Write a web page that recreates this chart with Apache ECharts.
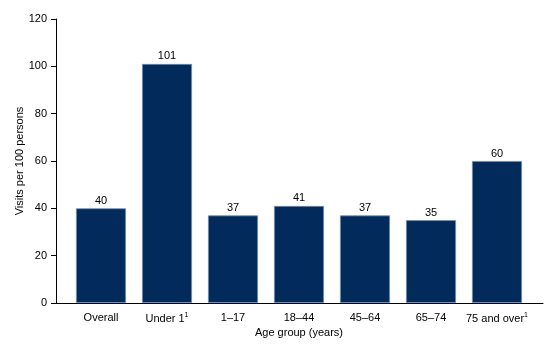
<!DOCTYPE html>
<html>
<head>
<meta charset="utf-8">
<script src="https://cdn.jsdelivr.net/npm/echarts@6/dist/echarts.min.js"></script>
<style>
	html, body { margin: 0; padding: 0; background: #fff; }
	#chart { width: 560px; height: 351px; }
</style>
</head>
<body>
<div id="chart"></div>
<script type="text/javascript">
    // age groups and visit rates
    var categories = ['Overall', 'Under 1{sup|1}', '1\u201317', '18\u201344', '45\u201364', '65\u201374', '75 and over{sup|1}'];
    var visits = [40, 101, 37, 41, 37, 35, 60];
    var yTicks = [0, 20, 40, 60, 80, 100, 120];

    var font = 'Liberation Sans, Arial, sans-serif';
    var myChart = echarts.init(document.getElementById('chart'), null, {renderer: 'canvas'});
    var option = {
        animation: false,
        textStyle: {fontFamily: font},
        grid: [
            // bars
            {left: 68, right: 30, top: 19, bottom: 48},
            // axes frame
            {left: 56, right: 17, top: 19, bottom: 48}
        ],
        xAxis: [
            {
                gridIndex: 0,
                type: 'category',
                data: categories,
                axisLine: {show: false},
                axisTick: {show: false},
                axisLabel: {
                    interval: 0,
                    color: '#000', fontSize: 11, fontFamily: font, margin: 9,
                    rich: {sup: {fontSize: 7, verticalAlign: 'top', padding: [0, 0, 6, 0], color: '#000'}}
                },
                name: 'Age group (years)',
                nameLocation: 'middle',
                nameGap: 24,
                nameMoveOverlap: false,
                nameTextStyle: {color: '#000', fontSize: 11, fontFamily: font}
            },
            {
                gridIndex: 1,
                type: 'value',
                min: 0, max: 1,
                axisLine: {show: true, lineStyle: {color: '#000', width: 1}},
                axisTick: {show: false},
                axisLabel: {show: false},
                splitLine: {show: false}
            }
        ],
        yAxis: [
            {
                gridIndex: 0,
                type: 'value',
                min: yTicks[0], max: yTicks[yTicks.length - 1], interval: 20,
                show: false
            },
            {
                gridIndex: 1,
                type: 'value',
                min: yTicks[0], max: yTicks[yTicks.length - 1], interval: 20,
                axisLine: {show: true, lineStyle: {color: '#000', width: 1}},
                axisTick: {show: true, length: 5, lineStyle: {color: '#000'}},
                axisLabel: {color: '#000', fontSize: 11, fontFamily: font, margin: 9},
                splitLine: {show: false},
                name: 'Visits per 100 persons',
                nameLocation: 'middle',
                nameGap: 31,
                nameMoveOverlap: false,
                nameTextStyle: {color: '#000', fontSize: 11, fontFamily: font}
            }
        ],
        series: [
            {
                type: 'bar',
                xAxisIndex: 0,
                yAxisIndex: 0,
                data: visits,
                barWidth: 50,
                itemStyle: {color: '#022b5b', borderColor: '#6f8db3', borderWidth: 0.8},
                label: {
                    show: true, position: 'top', distance: 2,
                    color: '#000', fontSize: 11, fontFamily: font
                }
            }
        ]
    };
    myChart.setOption(option);
</script>
</body>
</html>
